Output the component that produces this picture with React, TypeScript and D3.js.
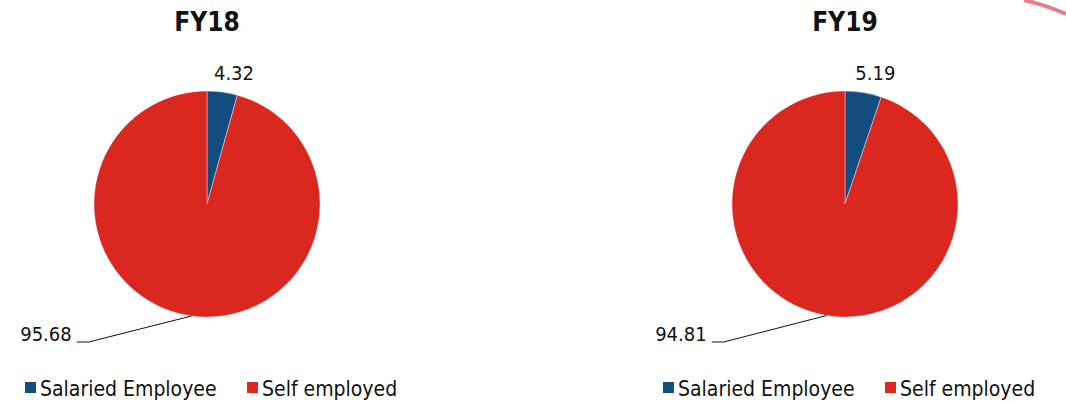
import React from 'react';
import * as d3 from 'd3';

// chart data
const years = ['FY18', 'FY19'];
const categories = ['Salaried Employee', 'Self employed'];
const salaried = [4.32, 5.19];
const selfEmployed = [95.68, 94.81];
const colors = ['#134c7e', '#da271f'];

const W = 1066;
const H = 402;
const FONT = "'DejaVu Sans Condensed', 'DejaVu Sans', sans-serif";

// one pie with its title, labels and legend
const Pie = ({ year, values, cx }: { year: string; values: number[]; cx: number }) => {
    const cy = 204;
    const r = 113;
    const pie = d3.pie<number>().sort(null).value(d => d);
    const arcs = pie(values);
    const arc = d3.arc<d3.PieArcDatum<number>>().innerRadius(0).outerRadius(r);
    const labelArc = d3.arc<d3.PieArcDatum<number>>().innerRadius(r * 1.11).outerRadius(r * 1.11);

    const legendX = d3.scaleOrdinal<string, number>().domain(categories).range([-182, 40]);

    return (
        <g>
            <text x={cx} y={31} textAnchor="middle" fontFamily={FONT} fontWeight="bold" fontSize={26} fill="#111">
                {year}
            </text>
            <g transform={`translate(${cx},${cy})`}>
                {arcs.map((a, i) => (
                    <path key={i} d={arc(a) || ''} fill={colors[i]} stroke="#fff" strokeWidth={0.4} />
                ))}
                {arcs.map((a, i) => {
                    const mid = (a.startAngle + a.endAngle) / 2;
                    if (i === 0) {
                        const [lx, ly] = labelArc.centroid(a);
                        return (
                            <text key={'l' + i} x={lx + 10} y={ly} textAnchor="middle" fontFamily={FONT} fontSize={20} fill="#111">
                                {values[i].toFixed(2)}
                            </text>
                        );
                    }
                    // leader line for the big slice
                    const px = r * Math.sin(mid);
                    const py = -r * Math.cos(mid);
                    const ex = px - 103;
                    const ey = 138;
                    const line = d3.line()([[px, py], [ex, ey], [ex - 12, ey]]);
                    return (
                        <g key={'l' + i}>
                            <path d={line || ''} fill="none" stroke="#111" strokeWidth={1} />
                            <text x={ex - 17} y={ey - 1} textAnchor="end" fontFamily={FONT} fontSize={20} fill="#111">
                                {values[i].toFixed(2)}
                            </text>
                        </g>
                    );
                })}
            </g>
            {categories.map((c, i) => (
                <g key={c} transform={`translate(${cx + (legendX(c) as number)},382)`}>
                    <rect width={11} height={11} fill={colors[i]} />
                    <text x={15} y={14} fontFamily={FONT} fontSize={21} fill="#111">{c}</text>
                </g>
            ))}
        </g>
    );
};

const App = () => {
    const centers = d3.scaleOrdinal<string, number>().domain(years).range([207, 845]);
    return (
        <svg width={W} height={H} style={{ position: 'absolute', left: 0, top: 0, background: '#fff' }}>
            {years.map((y, i) => (
                <Pie key={y} year={y} values={[salaried[i], selfEmployed[i]]} cx={centers(y) as number} />
            ))}
            {/* cropped logo fragment in the corner */}
            <path d="M1024,0 Q1046,5 1066,14" fill="none" stroke="#d9263a" strokeWidth={4} opacity={0.6} />
        </svg>
    );
};

export default App;
